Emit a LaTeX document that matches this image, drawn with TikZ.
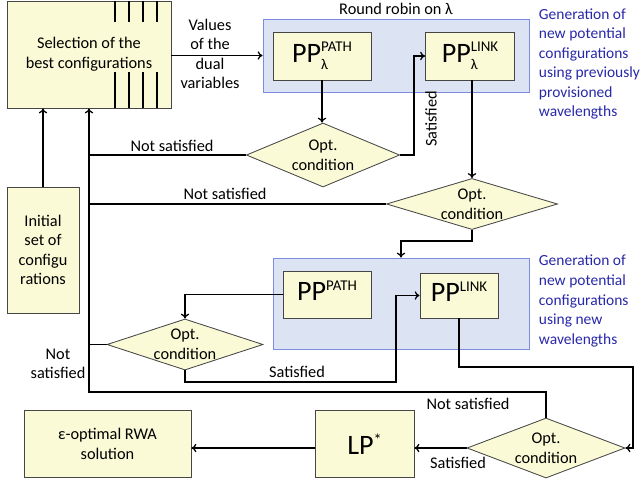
\documentclass[tikz,border=0pt]{standalone}
\usepackage{fontspec}
\setmainfont{Carlito}
\usetikzlibrary{shapes.geometric,arrows.meta}
\definecolor{boxfill}{RGB}{250,250,214}
\definecolor{boxline}{RGB}{70,70,70}
\definecolor{rrfill}{RGB}{220,227,242}
\definecolor{rrline}{RGB}{125,140,225}
\definecolor{gentext}{RGB}{40,40,170}
\newcommand{\ppname}[2]{{\fontsize{20}{22}\selectfont PP}\rlap{\raisebox{7.4pt}{\fontsize{10.6}{12}\selectfont #1}}\rlap{\raisebox{-5.4pt}{\fontsize{10.6}{12}\selectfont #2}}\hphantom{\fontsize{10.6}{12}\selectfont #1}}

\begin{document}
\begin{tikzpicture}[x=0.025cm,y=-0.025cm,
        txt/.style={font=\fontsize{11.6}{13.9}\selectfont, align=center},
        box/.style={txt, draw=boxline, fill=boxfill, line width=0.6pt, inner sep=0pt},
        test/.style={txt, shape=diamond, aspect=3, draw=boxline, fill=boxfill, line width=0.6pt, inner sep=0pt},
        group/.style={draw=rrline, fill=rrfill, line width=0.6pt, inner sep=0pt},
        gen/.style={txt, font=\fontsize{11}{13.9}\selectfont, text=gentext, align=left, anchor=west},
        flow/.style={line width=0.9pt, -{To[length=3.5pt,width=6pt]}},
        link/.style={line width=0.9pt}]
        \useasboundingbox (0,0) rectangle (642,481);
        \node[group, minimum width=6.65cm, minimum height=1.825cm] (rr) at (396,55.5) {};
        \node[group, minimum width=6.4cm, minimum height=2.275cm] (nw) at (401,303.5) {};
        \node[box, minimum width=4.1cm, minimum height=2.675cm] (sel) at (89,54.5) {Selection of the\\best configurations};
        \node[box, minimum width=1.8cm, minimum height=3.15cm] (init) at (43,250) {Initial\\set of\\configu\\rations};
        \node[box, minimum width=2.45cm, minimum height=1.2cm] (ppl) at (322,56) {\ppname{PATH}{λ}};
        \node[box, minimum width=2.225cm, minimum height=1.2cm] (lkl) at (470,56) {\ppname{LINK}{λ}};
        \node[box, minimum width=2.2cm, minimum height=1.175cm] (pp) at (327,294.5) {\ppname{PATH}{}};
        \node[box, minimum width=1.95cm, minimum height=1.125cm] (lk) at (459,295.5) {\ppname{LINK}{}};
        \node[box, minimum width=2.475cm, minimum height=1.675cm] (lp) at (364.5,444) {{\fontsize{20}{22}\selectfont LP}\raisebox{6pt}{*}};
        \node[box, minimum width=4.175cm, minimum height=1.675cm] (eps) at (107.5,444) {ε-optimal RWA\\solution};
        \node[test, minimum width=3.8cm, minimum height=1.6cm] (t1) at (323,155) {Opt.\\condition};
        \node[test, minimum width=4.275cm, minimum height=1.275cm] (t2) at (472,204) {Opt.\\condition};
        \node[test, minimum width=3.9cm, minimum height=1.275cm] (t3) at (185,344.5) {Opt.\\condition};
        \node[test, minimum width=3.95cm, minimum height=1.5cm] (t4) at (546,448) {Opt.\\condition};
        \node[txt] (rrlab) at (396,9) {Round robin on λ};
        \node[txt] (dual) at (210,54) {Values\\of the\\dual\\variables};
        \node[gen] (gen1) at (534,64) {Generation of\\new potential\\configurations\\using previously\\provisioned\\wavelengths};
        \node[gen] (gen2) at (534,301) {Generation of\\new potential\\configurations\\using new\\wavelengths};
        \node[txt] (ns1) at (172,146) {Not satisfied};
        \node[txt] (ns2) at (225,194) {Not satisfied};
        \node[txt] (ns3) at (58,364) {Not\\satisfied};
        \node[txt] (ns4) at (468,404) {Not satisfied};
        \node[txt, rotate=90] (sat1) at (431,119) {Satisfied};
        \node[txt] (sat3) at (297,372) {Satisfied};
        \node[txt] (sat4) at (458,463) {Satisfied};
        \coordinate (trunk) at (89,392);
        \coordinate (up) at (396,382);
        \coordinate (rt) at (633,367);
        \foreach \x in {115,129,143,157}
            \draw[line width=0.9pt] (\x,1) -- (\x,22) (\x,72) -- (\x,108);
        \draw[flow] (init.north) -- (init.north |- sel.south);
        \draw[flow] (t4.north) |- (trunk) -- (trunk |- sel.south);
        \draw[link] (t1.west) -- (t1.west -| trunk)
        (t2.west) -- (t2.west -| trunk)
        (t3.west) -- (t3.west -| trunk);
        \draw[flow] (sel.east |- rr.west) -- (rr.west);
        \draw[flow] (ppl.south) -- (ppl.south |- t1.north);
        \draw[flow] (t1.east) -- ++(14,0) |- (lkl.west);
        \draw[flow] (lkl.south -| t2.north) -- (t2.north);
        \draw[flow] (t2.south) -- ++(0,11) -| (nw.north);
        \draw[flow] (pp.west) -| (t3.north);
        \draw[flow] (t3.south) |- (up) |- (lk.west);
        \draw[flow] (lk.south) |- (rt) |- (t4.east);
        \draw[flow] (t4.west) -- (t4.west -| lp.east);
        \draw[flow] (lp.west |- t4.west) -- (eps.east |- t4.west);
    \end{tikzpicture}
\end{document}
